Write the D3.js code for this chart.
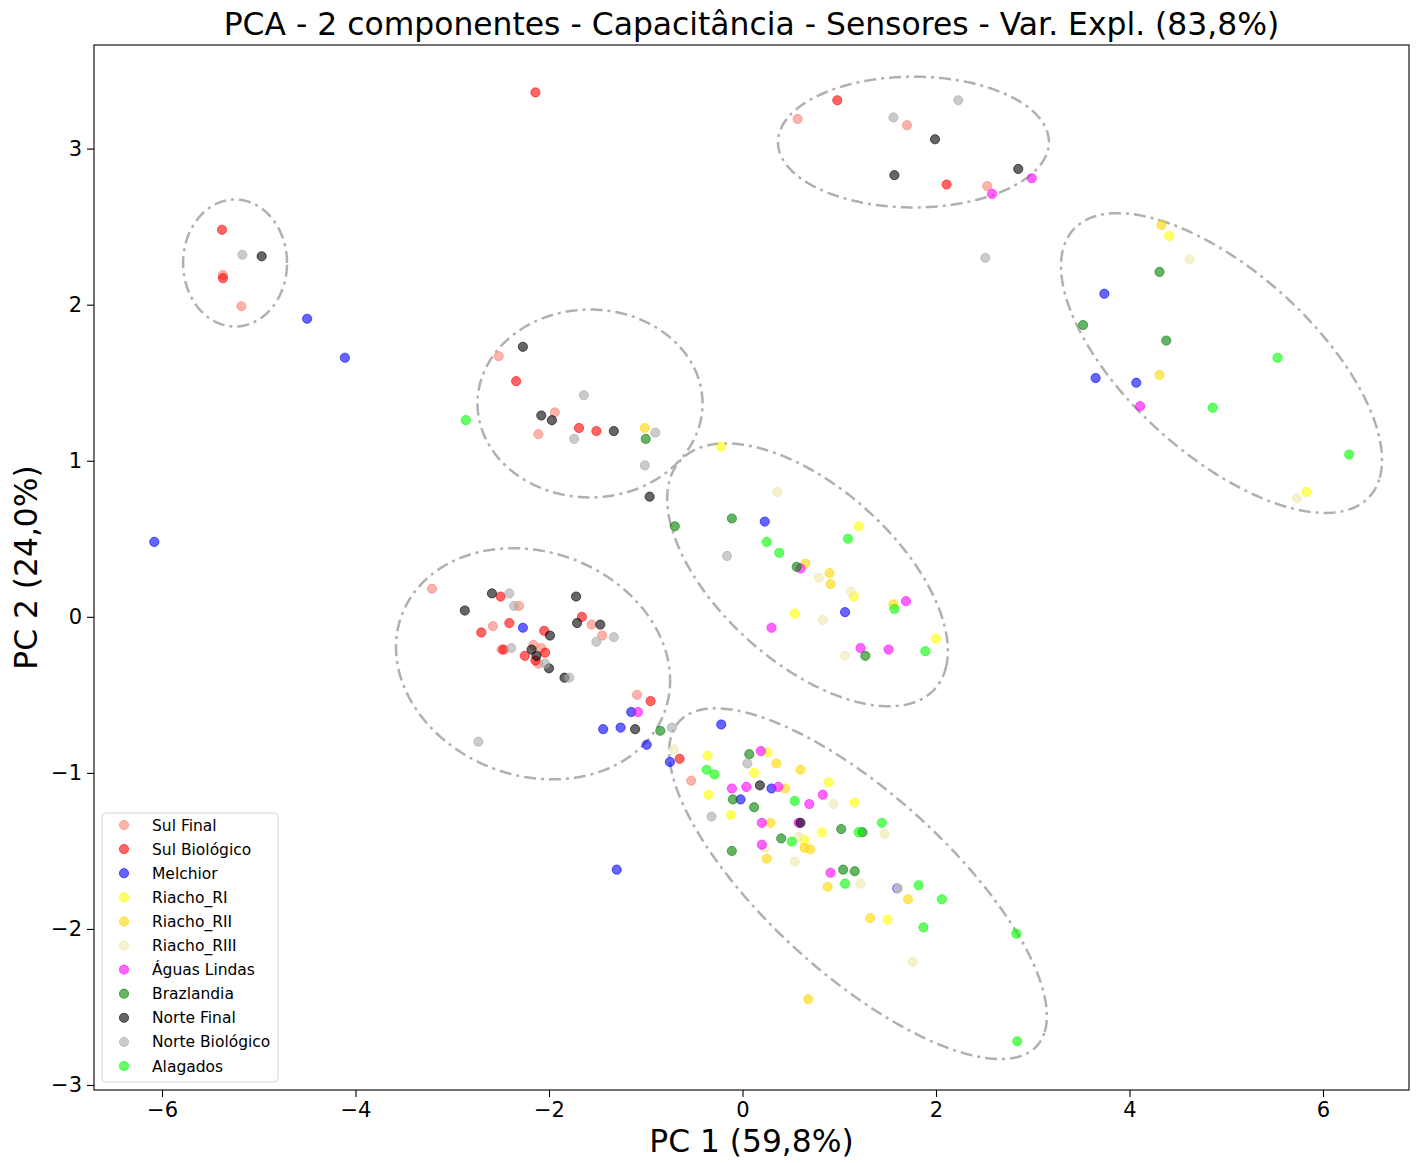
<!DOCTYPE html>
<html>
<head>
<meta charset="utf-8">
<script src="https://cdn.jsdelivr.net/npm/d3@7"></script>
<style>
  html, body { margin: 0; padding: 0; background: #ffffff; }
  svg { display: block; font-family: "DejaVu Sans", sans-serif; }
</style>
</head>
<body>
<svg id="chart" width="1419" height="1163"></svg>
<script>
// PCA scores (PC1, PC2) per sampling site
const sulFinal = [
  [-3.21, 0.18], [-2.31, 0.07], [-1.56, -0.05], [-1.45, -0.12], [-2.58, -0.06],
  [-2.49, -0.21], [-2.16, -0.18], [-2.08, -0.20], [-2.11, -0.30], [-1.09, -0.50],
  [-0.53, -1.05], [-2.52, 1.67], [-1.94, 1.31], [-2.11, 1.17], [0.57, 3.19],
  [1.70, 3.15], [2.53, 2.76], [-5.37, 2.19], [-5.18, 1.99]
];
const sulBiologico = [
  [-2.50, 0.13], [-1.66, 0.00], [-2.70, -0.10], [-2.41, -0.04], [-2.05, -0.09],
  [-2.47, -0.21], [-2.04, -0.23], [-2.25, -0.25], [-2.14, -0.28], [-0.95, -0.54],
  [-0.65, -0.91], [-2.34, 1.51], [-1.69, 1.21], [-1.51, 1.19], [0.98, 3.31],
  [2.11, 2.77], [-2.14, 3.36], [-5.38, 2.48], [-5.37, 2.17]
];
const melchior = [
  [-2.27, -0.07], [-1.15, -0.61], [-1.44, -0.72], [-1.26, -0.71], [-0.99, -0.82],
  [-0.75, -0.93], [-0.22, -0.69], [0.30, -1.10], [-0.02, -1.17], [1.60, -1.74],
  [0.23, 0.61], [1.06, 0.03], [3.74, 2.07], [3.65, 1.53], [4.07, 1.50],
  [-4.50, 1.91], [-4.11, 1.66], [-6.08, 0.48], [-1.30, -1.62]
];
const riachoRI = [
  [-0.36, -0.89], [-0.35, -1.14], [0.26, -0.87], [0.12, -1.00], [0.89, -1.06],
  [1.16, -1.19], [-0.12, -1.27], [0.82, -1.38], [0.64, -1.43], [1.50, -1.94],
  [-0.22, 1.09], [1.20, 0.58], [1.15, 0.13], [0.54, 0.02], [2.00, -0.14],
  [4.41, 2.44], [5.83, 0.80]
];
const riachoRII = [
  [0.35, -0.94], [0.60, -0.98], [0.44, -1.10], [0.29, -1.32], [0.64, -1.48],
  [0.70, -1.49], [0.25, -1.55], [0.88, -1.73], [1.71, -1.81], [1.32, -1.93],
  [0.68, -2.45], [-1.01, 1.21], [0.65, 0.34], [0.90, 0.28], [0.91, 0.21],
  [1.56, 0.08], [4.33, 2.51], [4.31, 1.55]
];
const riachoRIII = [
  [-0.71, -0.85], [0.94, -1.20], [1.47, -1.39], [0.58, -1.41], [0.23, -1.48],
  [0.54, -1.57], [1.22, -1.71], [1.61, -1.74], [1.76, -2.21], [0.36, 0.80],
  [0.79, 0.25], [1.12, 0.16], [0.83, -0.02], [1.06, -0.25], [4.62, 2.29],
  [5.73, 0.76]
];
const aguasLindas = [
  [-1.08, -0.61], [0.19, -0.86], [-0.11, -1.10], [0.04, -1.09], [0.37, -1.09],
  [0.83, -1.14], [0.69, -1.20], [0.20, -1.32], [0.58, -1.32], [0.20, -1.46],
  [0.91, -1.64], [0.60, 0.31], [1.69, 0.10], [0.30, -0.07], [1.22, -0.20],
  [1.51, -0.21], [4.11, 1.35], [2.58, 2.71], [2.99, 2.81]
];
const brazlandia = [
  [-0.85, -0.73], [0.07, -0.88], [-0.10, -1.17], [0.12, -1.22], [-0.11, -1.50],
  [0.40, -1.42], [1.02, -1.36], [1.24, -1.38], [1.04, -1.62], [1.16, -1.63],
  [-0.11, 0.63], [-0.70, 0.58], [0.56, 0.32], [1.27, -0.25], [-1.00, 1.14],
  [4.31, 2.21], [3.52, 1.87], [4.38, 1.77]
];
const norteFinal = [
  [-2.59, 0.15], [-2.87, 0.04], [-1.72, 0.13], [-1.71, -0.04], [-1.47, -0.05],
  [-1.99, -0.12], [-2.18, -0.21], [-2.13, -0.25], [-2.00, -0.33], [-1.84, -0.39],
  [-1.11, -0.72], [0.18, -1.08], [0.60, -1.32], [-2.27, 1.73], [-2.08, 1.29],
  [-1.97, 1.26], [-1.33, 1.19], [-0.96, 0.77], [1.99, 3.06], [1.57, 2.83],
  [2.85, 2.87], [-4.97, 2.31]
];
const norteBiologico = [
  [-2.41, 0.15], [-2.36, 0.07], [-1.51, -0.16], [-1.33, -0.13], [-2.39, -0.20],
  [-2.04, -0.30], [-1.79, -0.39], [-2.73, -0.80], [-0.73, -0.71], [0.05, -0.94],
  [-0.32, -1.28], [-0.16, 0.39], [-1.64, 1.42], [-1.74, 1.14], [-0.90, 1.18],
  [-1.01, 0.97], [2.23, 3.31], [1.56, 3.20], [2.51, 2.30], [-5.17, 2.32]
];
const alagados = [
  [-0.37, -0.98], [-0.29, -1.01], [0.54, -1.18], [1.20, -1.38], [1.44, -1.32],
  [0.51, -1.44], [1.06, -1.71], [1.82, -1.72], [2.06, -1.81], [1.87, -1.99],
  [2.83, -2.03], [2.84, -2.72], [0.25, 0.48], [0.38, 0.41], [1.09, 0.50],
  [1.57, 0.05], [1.89, -0.22], [-2.86, 1.26], [5.53, 1.66], [4.86, 1.34],
  [6.27, 1.04]
];

const seriesNames = [
  "Sul Final", "Sul Biológico", "Melchior", "Riacho_RI", "Riacho_RII", "Riacho_RIII",
  "Águas Lindas", "Brazlandia", "Norte Final", "Norte Biológico", "Alagados"
];
const seriesValues = [
  sulFinal, sulBiologico, melchior, riachoRI, riachoRII, riachoRIII,
  aguasLindas, brazlandia, norteFinal, norteBiologico, alagados
];
const seriesColors = [
  "salmon", "red", "blue", "yellow", "gold", "palegoldenrod",
  "magenta", "green", "black", "darkgray", "lime"
];

// Cluster ellipses in PC units: centre, semi-axes and rotation (degrees)
const ellipseCenters = [[-5.245, 2.267], [-1.576, 1.367], [1.767, 3.042], [-2.165, -0.301], [0.672, 0.269], [1.194, -1.710], [4.951, 1.626]];
const ellipseSemiAxes = [[0.537, 0.407], [1.163, 0.602], [1.400, 0.419], [1.422, 0.730], [1.549, 0.643], [2.150, 0.670], [1.793, 0.678]];
const ellipseAngles = [0, 0, 0, -5.85, -22.7, -26.2, -24.2];

const xTicks = [-6, -4, -2, 0, 2, 4, 6];
const yTicks = [-3, -2, -1, 0, 1, 2, 3];
const xDomain = [-6.703, 6.889];
const yDomain = [-3.032, 3.664];

const titleText = "PCA - 2 componentes - Capacitância - Sensores - Var. Expl. (83,8%)";
const xLabelText = "PC 1 (59,8%)";
const yLabelText = "PC 2 (24,0%)";

// ---- layout
const svg = d3.select("#chart");
const margin = { left: 94, top: 45, right: 1409, bottom: 1090 };

const x = d3.scaleLinear().domain(xDomain).range([margin.left, margin.right]);
const y = d3.scaleLinear().domain(yDomain).range([margin.bottom, margin.top]);

const fmt = d => (d < 0 ? "\u2212" + Math.abs(d) : String(d));

// ellipses
const ellipsePath = (c, ax, angDeg) => {
  const th = angDeg * Math.PI / 180;
  const pts = d3.range(0, 361).map(i => {
    const t = i * Math.PI / 180;
    const ex = ax[0] * Math.cos(t), ey = ax[1] * Math.sin(t);
    return [x(c[0] + ex * Math.cos(th) - ey * Math.sin(th)),
            y(c[1] + ex * Math.sin(th) + ey * Math.cos(th))];
  });
  return d3.line()(pts) + "Z";
};

svg.append("g").selectAll("path")
  .data(ellipseCenters)
  .join("path")
  .attr("d", (c, i) => ellipsePath(c, ellipseSemiAxes[i], ellipseAngles[i]))
  .attr("fill", "none")
  .attr("stroke", "#b0b0b0")
  .attr("stroke-width", 2.5)
  .attr("stroke-dasharray", "12,5,3,5");

// points
const pts = svg.append("g");
seriesValues.forEach((vals, si) => {
  pts.append("g").selectAll("circle")
    .data(vals)
    .join("circle")
    .attr("cx", d => x(d[0]))
    .attr("cy", d => y(d[1]))
    .attr("r", 4.6)
    .attr("fill", seriesColors[si])
    .attr("fill-opacity", 0.6)
    .attr("stroke", seriesColors[si])
    .attr("stroke-opacity", 0.6)
    .attr("stroke-width", 1);
});

// axes
const xAxis = d3.axisBottom(x).tickValues(xTicks).tickFormat(fmt).tickSize(7).tickPadding(5);
const yAxis = d3.axisLeft(y).tickValues(yTicks).tickFormat(fmt).tickSize(7).tickPadding(5);

const gx = svg.append("g").attr("transform", `translate(0,${margin.bottom})`).call(xAxis);
const gy = svg.append("g").attr("transform", `translate(${margin.left},0)`).call(yAxis);
[gx, gy].forEach(g => {
  g.select(".domain").remove();
  g.selectAll("line").attr("stroke", "#000").attr("stroke-width", 1.1);
  g.selectAll("text").attr("font-size", 21).attr("fill", "#000")
    .attr("font-family", "DejaVu Sans, sans-serif");
});

svg.append("rect")
  .attr("x", margin.left).attr("y", margin.top)
  .attr("width", margin.right - margin.left).attr("height", margin.bottom - margin.top)
  .attr("fill", "none").attr("stroke", "#000").attr("stroke-width", 1.1);

// titles
svg.append("text")
  .attr("x", (margin.left + margin.right) / 2).attr("y", 35)
  .attr("text-anchor", "middle").attr("font-size", 31.4).attr("fill", "#000")
  .text(titleText);

svg.append("text")
  .attr("x", (margin.left + margin.right) / 2).attr("y", 1152)
  .attr("text-anchor", "middle").attr("font-size", 31.3).attr("fill", "#000")
  .text(xLabelText);

svg.append("text")
  .attr("transform", `translate(37,${(margin.top + margin.bottom) / 2}) rotate(-90)`)
  .attr("text-anchor", "middle").attr("font-size", 31.3).attr("fill", "#000")
  .text(yLabelText);

// legend
const legend = svg.append("g").attr("transform", "translate(102,813)");
legend.append("rect")
  .attr("width", 176).attr("height", 269).attr("rx", 4)
  .attr("fill", "#fff").attr("fill-opacity", 0.8)
  .attr("stroke", "#d6d6d6").attr("stroke-width", 1);
const rows = legend.selectAll("g.row").data(seriesNames).join("g")
  .attr("class", "row")
  .attr("transform", (d, i) => `translate(0,${12 + i * 24.1})`);
rows.append("circle")
  .attr("cx", 22).attr("cy", 0).attr("r", 4.6)
  .attr("fill", (d, i) => seriesColors[i]).attr("fill-opacity", 0.6)
  .attr("stroke", (d, i) => seriesColors[i]).attr("stroke-opacity", 0.6);
rows.append("text")
  .attr("x", 50).attr("y", 5.5)
  .attr("font-size", 15.5).attr("fill", "#000")
  .text(d => d);
</script>
</body>
</html>
